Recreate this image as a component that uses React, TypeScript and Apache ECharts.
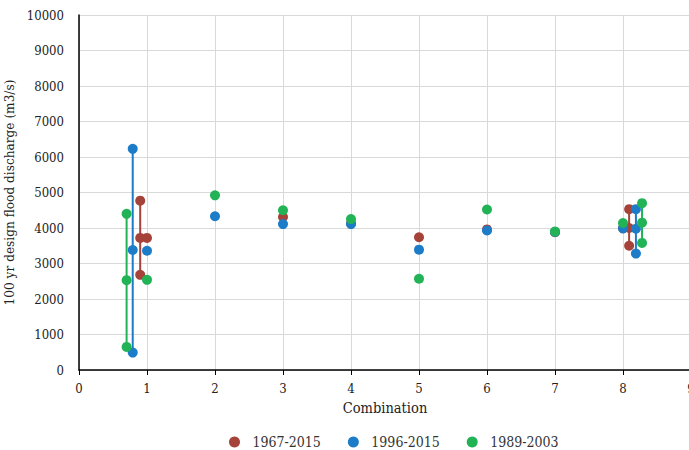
import React, { useEffect, useRef } from "react";
import * as echarts from "echarts";

const seriesNames = ["1967-2015", "1996-2015", "1989-2003"];
const seriesColors = ["#A5433A", "#1C7CC7", "#22B356"];

const pts1967: [number, number][] = [
  [0.9, 4770], [0.9, 3720], [0.9, 2680], [1, 3720], [3, 4310], [4, 4130],
  [5, 3740], [6, 3960], [7, 3880], [8, 3990], [8.09, 4530], [8.09, 4000], [8.09, 3500],
];
const pts1996: [number, number][] = [
  [0.79, 6230], [0.79, 3380], [0.79, 490], [1, 3360], [2, 4330], [3, 4110], [4, 4110],
  [5, 3390], [6, 3930], [7, 3890], [8, 3990], [8.19, 4530], [8.19, 3980], [8.19, 3280],
];
const pts1989: [number, number][] = [
  [0.7, 4400], [0.7, 2530], [0.7, 650], [1, 2540], [2, 4920], [3, 4500], [4, 4250],
  [5, 2570], [6, 4520], [7, 3900], [8, 4140], [8.28, 4700], [8.28, 4150], [8.28, 3580],
];
const allPts = [pts1967, pts1996, pts1989];

const FONT = "DejaVu Serif Condensed";

function rangeLines(pts: [number, number][]) {
  const groups: Record<string, number[]> = {};
  pts.forEach(([x, y]) => {
    const k = String(x);
    (groups[k] = groups[k] || []).push(y);
  });
  const out: any[] = [];
  Object.keys(groups).forEach((k) => {
    const ys = groups[k];
    if (ys.length > 1) {
      const x = Number(k);
      out.push([x, Math.min(...ys)]);
      out.push([x, Math.max(...ys)]);
      out.push([x, "-"]);
    }
  });
  return out;
}

export default function App() {
  const ref = useRef<HTMLDivElement>(null);
  useEffect(() => {
    const chart = echarts.init(ref.current!, undefined, { renderer: "svg" });
    const series: any[] = [];
    allPts.forEach((pts, i) => {
      series.push({
        type: "line",
        name: "range-" + i,
        data: rangeLines(pts),
        symbol: "none",
        connectNulls: false,
        lineStyle: { color: seriesColors[i], width: 2 },
        z: 2 + i * 2,
        silent: true,
      });
      series.push({
        type: "scatter",
        name: seriesNames[i],
        data: pts,
        symbol: "circle",
        symbolSize: 10,
        itemStyle: { color: seriesColors[i], opacity: 1 },
        z: 3 + i * 2,
      });
    });
    chart.setOption({
      animation: false,
      textStyle: { fontFamily: FONT },
      grid: { left: 79, right: -2, top: 15, bottom: 80, outerBoundsMode: "none", containLabel: false },
      legend: {
        data: seriesNames.map((n) => ({ name: n, icon: "circle" })),
        top: 430,
        left: 224,
        itemWidth: 26,
        itemHeight: 11,
        itemGap: 27,
        textStyle: { fontFamily: FONT, fontSize: 14, color: "#333" },
      },
      xAxis: {
        type: "value",
        min: 0,
        max: 9,
        interval: 1,
        name: "Combination",
        nameLocation: "middle",
        nameGap: 30,
        nameTextStyle: { fontFamily: FONT, fontSize: 14.5, color: "#222" },
        axisLine: { lineStyle: { color: "#000", width: 1.5 } },
        axisTick: { show: true, length: 5, lineStyle: { color: "#000" } },
        axisLabel: { fontFamily: FONT, fontSize: 13, color: "#222", margin: 12 },
        splitLine: { show: true, lineStyle: { color: "#d9d9d9", width: 1 } },
      },
      yAxis: {
        type: "value",
        min: 0,
        max: 10000,
        interval: 1000,
        name: "100 yr design flood discharge (m3/s)",
        nameLocation: "middle",
        nameGap: 38,
        nameTextStyle: { fontFamily: FONT, fontSize: 13.5, color: "#222" },
        axisLine: { show: true, lineStyle: { color: "#000", width: 1.5 } },
        axisTick: { show: false },
        axisLabel: {
          fontFamily: FONT,
          fontSize: 13,
          color: "#222",
          margin: 15,
          formatter: (v: number) => String(v),
        },
        splitLine: { show: true, lineStyle: { color: "#d9d9d9", width: 1 } },
      },
      series,
    });
    return () => chart.dispose();
  }, []);
  return (
    <div
      ref={ref}
      style={{ position: "absolute", left: 0, top: 0, width: 689, height: 450 }}
    />
  );
}
